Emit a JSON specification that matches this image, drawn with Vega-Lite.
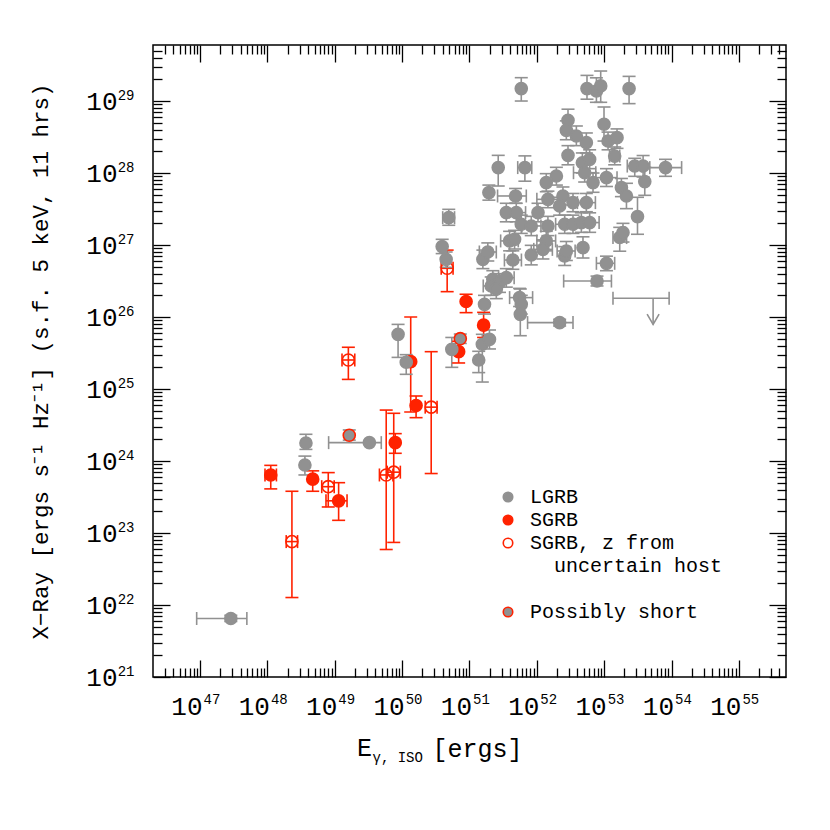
{
"$schema": "https://vega.github.io/schema/vega-lite/v6.json",
"width": 633, "height": 632,
"autosize": {"type": "none"},
"padding": {"left": 153, "top": 45, "right": 44, "bottom": 153},
"background": "white",
"data": {"values": [
{"E":1.12e48,"L":6.4e23,"Elo":9.2e47,"Ehi":1.36e48,"Llo":4.1e23,"Lhi":8.7e23,"t":"SGRB"},
{"E":4.7e48,"L":5.6e23,"Llo":3.8e23,"Lhi":7.3e23,"t":"SGRB"},
{"E":1.14e49,"L":2.8e23,"Elo":7.4e48,"Ehi":1.52e49,"Llo":1.5e23,"Lhi":5.0e23,"t":"SGRB"},
{"E":7.9e49,"L":1.8e24,"Llo":1.28e24,"Lhi":2.4e24,"t":"SGRB"},
{"E":1.34e50,"L":2.4e25,"Llo":4.8e24,"Lhi":1.0e26,"t":"SGRB"},
{"E":1.61e50,"L":5.9e24,"Llo":4.0e24,"Lhi":8.0e24,"t":"SGRB"},
{"E":6.9e50,"L":3.3e25,"Llo":2.3e25,"Lhi":4.6e25,"t":"SGRB"},
{"E":8.9e50,"L":1.64e26,"Llo":1.15e26,"Lhi":2.07e26,"t":"SGRB"},
{"E":1.62e51,"L":7.7e25,"Llo":5.2e25,"Lhi":1.16e26,"t":"SGRB"},
{"E":1.59e49,"L":2.53e25,"Elo":1.28e49,"Ehi":1.98e49,"Llo":1.36e25,"Lhi":3.8e25,"t":"SGRB, z from uncertain host"},
{"E":8.0e48,"L":4.4e23,"Elo":6.4e48,"Ehi":9.8e48,"Llo":2.3e23,"Lhi":6.9e23,"t":"SGRB, z from uncertain host"},
{"E":2.31e48,"L":7.6e22,"Elo":1.9e48,"Ehi":2.8e48,"Llo":1.27e22,"Lhi":3.8e23,"t":"SGRB, z from uncertain host"},
{"E":5.8e49,"L":6.4e23,"Elo":4.6e49,"Ehi":7.3e49,"Llo":5.9e22,"Lhi":5.1e24,"t":"SGRB, z from uncertain host"},
{"E":7.5e49,"L":7.0e23,"Elo":6.0e49,"Ehi":9.4e49,"Llo":7.4e22,"Lhi":4.6e24,"t":"SGRB, z from uncertain host"},
{"E":2.7e50,"L":5.6e24,"Elo":2.2e50,"Ehi":3.3e50,"Llo":6.7e23,"Lhi":3.3e25,"t":"SGRB, z from uncertain host"},
{"E":4.66e50,"L":4.75e26,"Elo":3.8e50,"Ehi":5.7e50,"Llo":2.25e26,"Lhi":8.5e26,"t":"SGRB, z from uncertain host"},
{"E":1.64e49,"L":2.28e24,"Llo":1.95e24,"Lhi":2.7e24,"t":"Possibly short"},
{"E":7.3e50,"L":5.0e25,"Llo":4.3e25,"Lhi":5.8e25,"t":"Possibly short"},
{"E":2.86e47,"L":6.5e21,"Elo":8.9e46,"Ehi":4.95e47,"Llo":5.9e21,"Lhi":7.2e21,"t":"LGRB"},
{"E":3.73e48,"L":1.78e24,"Llo":1.45e24,"Lhi":2.35e24,"t":"LGRB"},
{"E":3.6e48,"L":8.8e23,"Llo":6.4e23,"Lhi":1.17e24,"t":"LGRB"},
{"E":3.26e49,"L":1.8e24,"Elo":8.1e48,"Ehi":4.9e49,"t":"LGRB"},
{"E":8.7e49,"L":5.75e25,"Llo":2.75e25,"Lhi":7.9e25,"t":"LGRB"},
{"E":1.15e50,"L":2.35e25,"Llo":1.6e25,"Lhi":3.0e25,"t":"LGRB"},
{"E":5.46e50,"L":3.56e25,"Llo":2.0e25,"Lhi":5.2e25,"t":"LGRB"},
{"E":1.37e51,"L":2.53e25,"Llo":1.69e25,"Lhi":3.34e25,"t":"LGRB"},
{"E":1.55e51,"L":4.18e25,"Llo":1.25e25,"Lhi":5.75e25,"t":"LGRB"},
{"E":1.98e51,"L":4.9e25,"Llo":3.6e25,"Lhi":6.6e25,"t":"LGRB"},
{"E":5.87e51,"L":1.49e29,"Llo":1.0e29,"Lhi":2.11e29,"t":"LGRB"},
{"E":5.55e52,"L":1.49e29,"Llo":1.06e29,"Lhi":2.27e29,"t":"LGRB"},
{"E":7.66e52,"L":1.38e29,"Llo":9.6e28,"Lhi":2.1e29,"t":"LGRB"},
{"E":8.87e52,"L":1.62e29,"Llo":9.6e28,"Lhi":2.61e29,"t":"LGRB"},
{"E":2.34e53,"L":1.49e29,"Llo":9.2e28,"Lhi":2.2e29,"t":"LGRB"},
{"E":2.9e52,"L":5.4e28,"Llo":3.9e28,"Lhi":7.7e28,"t":"LGRB"},
{"E":2.74e52,"L":3.92e28,"Llo":2.9e28,"Lhi":5.3e28,"t":"LGRB"},
{"E":3.86e52,"L":3.27e28,"Llo":2.4e28,"Lhi":4.5e28,"t":"LGRB"},
{"E":5.43e52,"L":2.64e28,"Llo":1.9e28,"Lhi":3.6e28,"t":"LGRB"},
{"E":9.93e52,"L":4.75e28,"Llo":2.78e28,"Lhi":8.26e28,"t":"LGRB"},
{"E":1.14e53,"L":2.78e28,"Llo":2.1e28,"Lhi":3.7e28,"t":"LGRB"},
{"E":1.55e53,"L":3.1e28,"Llo":2.2e28,"Lhi":4.1e28,"t":"LGRB"},
{"E":1.43e53,"L":1.72e28,"Elo":1.2e53,"Ehi":1.7e53,"Llo":1.3e28,"Lhi":2.3e28,"t":"LGRB"},
{"E":2.9e52,"L":1.76e28,"Llo":1.3e28,"Lhi":2.4e28,"t":"LGRB"},
{"E":4.74e52,"L":1.39e28,"Llo":1.0e28,"Lhi":1.9e28,"t":"LGRB"},
{"E":6.08e52,"L":1.55e28,"Llo":1.15e28,"Lhi":2.1e28,"t":"LGRB"},
{"E":2.67e51,"L":1.19e28,"Llo":6.6e27,"Lhi":1.76e28,"t":"LGRB"},
{"E":6.64e51,"L":1.19e28,"Elo":5.2e51,"Ehi":8.4e51,"Llo":7.7e27,"Lhi":1.73e28,"t":"LGRB"},
{"E":2.84e53,"L":1.25e28,"Elo":2.2e53,"Ehi":3.6e53,"Llo":9.0e27,"Lhi":1.6e28,"t":"LGRB"},
{"E":3.78e53,"L":1.25e28,"Llo":8.8e27,"Lhi":1.75e28,"t":"LGRB"},
{"E":8.13e53,"L":1.19e28,"Elo":4.75e53,"Ehi":1.41e54,"Llo":9.0e27,"Lhi":1.55e28,"t":"LGRB"},
{"E":4.0e53,"L":7.6e27,"Llo":4.9e27,"Lhi":1.2e28,"t":"LGRB"},
{"E":1.94e51,"L":5.35e27,"Llo":4.2e27,"Lhi":6.8e27,"t":"LGRB"},
{"E":4.83e51,"L":4.8e27,"Elo":2.61e51,"Ehi":6.97e51,"Llo":3.8e27,"Lhi":6.1e27,"t":"LGRB"},
{"E":1.38e52,"L":7.36e27,"Llo":5.5e27,"Lhi":9.8e27,"t":"LGRB"},
{"E":1.95e52,"L":9.1e27,"Llo":6.8e27,"Lhi":1.2e28,"t":"LGRB"},
{"E":5.13e52,"L":1.01e28,"Elo":3.5e52,"Ehi":7.5e52,"Llo":7.5e27,"Lhi":1.35e28,"t":"LGRB"},
{"E":6.82e52,"L":7.36e27,"Llo":5.4e27,"Lhi":1.0e28,"t":"LGRB"},
{"E":1.08e53,"L":8.63e27,"Elo":7.5e52,"Ehi":1.55e53,"Llo":6.5e27,"Lhi":1.15e28,"t":"LGRB"},
{"E":1.8e53,"L":6.27e27,"Llo":4.7e27,"Lhi":8.4e27,"t":"LGRB"},
{"E":2.14e53,"L":4.8e27,"Llo":3.2e27,"Lhi":7.2e27,"t":"LGRB"},
{"E":1.46e52,"L":4.31e27,"Elo":1.0e52,"Ehi":2.1e52,"Llo":3.3e27,"Lhi":5.6e27,"t":"LGRB"},
{"E":2.44e52,"L":4.8e27,"Llo":3.6e27,"Lhi":6.4e27,"t":"LGRB"},
{"E":3.44e52,"L":3.88e27,"Llo":2.9e27,"Lhi":5.2e27,"t":"LGRB"},
{"E":5.43e52,"L":3.88e27,"Elo":4.0e52,"Ehi":7.4e52,"Llo":2.9e27,"Lhi":5.2e27,"t":"LGRB"},
{"E":2.18e52,"L":3.48e27,"Llo":2.6e27,"Lhi":4.6e27,"t":"LGRB"},
{"E":3.52e51,"L":2.82e27,"Llo":2.1e27,"Lhi":3.8e27,"t":"LGRB"},
{"E":4.95e51,"L":2.82e27,"Elo":3.6e51,"Ehi":6.8e51,"Llo":2.1e27,"Lhi":3.8e27,"t":"LGRB"},
{"E":1.04e52,"L":2.82e27,"Llo":2.1e27,"Lhi":3.8e27,"t":"LGRB"},
{"E":5.87e51,"L":1.94e27,"Llo":1.45e27,"Lhi":2.6e27,"t":"LGRB"},
{"E":8.26e51,"L":1.84e27,"Elo":6.0e51,"Ehi":1.15e52,"Llo":1.35e27,"Lhi":2.5e27,"t":"LGRB"},
{"E":1.46e52,"L":1.84e27,"Llo":1.35e27,"Lhi":2.5e27,"t":"LGRB"},
{"E":2.59e52,"L":1.94e27,"Elo":1.9e52,"Ehi":3.6e52,"Llo":1.45e27,"Lhi":2.6e27,"t":"LGRB"},
{"E":3.44e52,"L":1.94e27,"Llo":1.45e27,"Lhi":2.6e27,"t":"LGRB"},
{"E":4.58e52,"L":2.05e27,"Llo":1.5e27,"Lhi":2.8e27,"t":"LGRB"},
{"E":6.08e52,"L":2.05e27,"Elo":4.4e52,"Ehi":8.4e52,"Llo":1.5e27,"Lhi":2.8e27,"t":"LGRB"},
{"E":3.12e53,"L":2.48e27,"Llo":1.41e27,"Lhi":4.6e27,"t":"LGRB"},
{"E":1.7e53,"L":1.27e27,"Elo":1.35e53,"Ehi":2.15e53,"Llo":8.2e26,"Lhi":1.76e27,"t":"LGRB"},
{"E":1.9e53,"L":1.49e27,"Llo":1.1e27,"Lhi":2.0e27,"t":"LGRB"},
{"E":4.92e50,"L":2.4e27,"Elo":4.0e50,"Ehi":6.0e50,"Llo":1.88e27,"Lhi":3.13e27,"t":"LGRB"},
{"E":3.93e50,"L":9.5e26,"Llo":7.6e26,"Lhi":1.2e27,"t":"LGRB"},
{"E":4.5e50,"L":6.33e26,"Llo":4.9e26,"Lhi":8.0e26,"t":"LGRB"},
{"E":3.94e51,"L":1.14e27,"Elo":2.9e51,"Ehi":5.3e51,"Llo":8.3e26,"Lhi":1.55e27,"t":"LGRB"},
{"E":4.67e51,"L":1.2e27,"Llo":8.8e26,"Lhi":1.6e27,"t":"LGRB"},
{"E":1.38e52,"L":1.14e27,"Elo":1.0e52,"Ehi":1.9e52,"Llo":8.3e26,"Lhi":1.55e27,"t":"LGRB"},
{"E":4.84e52,"L":9.2e26,"Llo":6.6e26,"Lhi":1.3e27,"t":"LGRB"},
{"E":1.58e51,"L":6.33e26,"Llo":4.7e26,"Lhi":8.5e26,"t":"LGRB"},
{"E":1.87e51,"L":8.0e26,"Elo":1.4e51,"Ehi":2.5e51,"Llo":6.0e26,"Lhi":1.07e27,"t":"LGRB"},
{"E":4.4e51,"L":6.19e26,"Elo":3.3e51,"Ehi":5.9e51,"Llo":4.6e26,"Lhi":8.3e26,"t":"LGRB"},
{"E":8.26e51,"L":7.26e26,"Llo":5.3e26,"Lhi":9.9e26,"t":"LGRB"},
{"E":1.23e52,"L":8.7e26,"Elo":9.0e51,"Ehi":1.7e52,"Llo":6.4e26,"Lhi":1.18e27,"t":"LGRB"},
{"E":2.59e52,"L":7.03e26,"Llo":5.2e26,"Lhi":9.5e26,"t":"LGRB"},
{"E":2.74e52,"L":8.26e26,"Elo":2.0e52,"Ehi":3.7e52,"Llo":6.1e26,"Lhi":1.12e27,"t":"LGRB"},
{"E":1.08e53,"L":5.57e26,"Elo":7.66e52,"Ehi":1.43e53,"Llo":4.4e26,"Lhi":7.0e26,"t":"LGRB"},
{"E":7.82e52,"L":3.16e26,"Elo":2.5e52,"Ehi":1.28e53,"Llo":2.7e26,"Lhi":3.7e26,"t":"LGRB"},
{"E":5.32e53,"L":1.82e26,"Elo":1.35e53,"Ehi":9.2e53,"Llo":7.9e25,"t":"LGRB","ul":true},
{"E":2.22e51,"L":3.34e26,"Llo":2.5e26,"Lhi":4.4e26,"t":"LGRB"},
{"E":2.1e51,"L":2.7e26,"Elo":1.6e51,"Ehi":2.8e51,"Llo":2.0e26,"Lhi":3.6e26,"t":"LGRB"},
{"E":2.79e51,"L":3.0e26,"Llo":2.2e26,"Lhi":4.0e26,"t":"LGRB"},
{"E":3.52e51,"L":3.52e26,"Elo":2.7e51,"Ehi":4.6e51,"Llo":2.6e26,"Lhi":4.7e26,"t":"LGRB"},
{"E":2.5e51,"L":2.43e26,"Llo":1.8e26,"Lhi":3.2e26,"t":"LGRB"},
{"E":1.67e51,"L":1.5e26,"Llo":1.1e26,"Lhi":2.0e26,"t":"LGRB"},
{"E":5.54e51,"L":1.86e26,"Elo":3.94e51,"Ehi":8.65e51,"Llo":1.4e26,"Lhi":2.5e26,"t":"LGRB"},
{"E":5.87e51,"L":1.5e26,"Llo":1.1e26,"Lhi":2.0e26,"t":"LGRB"},
{"E":5.68e51,"L":1.09e26,"Llo":5.5e25,"Lhi":2.45e26,"t":"LGRB"},
{"E":2.18e52,"L":8.36e25,"Elo":7.28e51,"Ehi":3.44e52,"Llo":7.5e25,"Lhi":9.3e25,"t":"LGRB"}
]},
"resolve": {"axis": {"x": "independent", "y": "independent"}},
"config": {
  "view": {"stroke": "black", "strokeWidth": 1.5},
  "axis": {"grid": false, "domain": false, "tickColor": "black", "tickWidth": 1.3, "labelColor": "black", "labelFont": "Liberation Mono", "titleFont": "Liberation Mono", "titleFontWeight": "normal", "titleColor": "black", "labelFlush": false, "labelOverlap": false, "labelBound": false},
  "legend": {"direction": "vertical"}
},
"layer": [
{
 "transform": [{"filter": "isValid(datum.Elo)"}],
 "mark": {"type": "rule", "strokeWidth": 1.6},
 "encoding": {
  "x": {"field": "Elo", "type": "quantitative", "scale": {"type": "log", "domain": [2e46, 5e55], "nice": false},
   "axis": {"orient": "bottom", "values": [1e47,1e48,1e49,1e50,1e51,1e52,1e53,1e54,1e55], "tickSize": 17, "offset": -17, "labelExpr": "'10'", "labelFontSize": 26, "labelAlign": "right", "labelBaseline": "top", "labelPadding": 16, "labelOffset": 2, "title": "E", "titleFontSize": 25, "titleX": 211, "titleY": 95, "titleAlign": "center", "titleBaseline": "alphabetic", "titleAngle": 0}},
  "x2": {"field": "Ehi"},
  "y": {"field": "L", "type": "quantitative", "scale": {"type": "log", "domain": [1e21, 6e29], "nice": false},
   "axis": {"orient": "left", "values": [1e21,1e22,1e23,1e24,1e25,1e26,1e27,1e28,1e29], "tickSize": 17, "offset": -17, "labelExpr": "'10'", "labelFontSize": 26, "labelAlign": "right", "labelBaseline": "middle", "labelPadding": 36, "title": "X−Ray [ergs s⁻¹ Hz⁻¹] (s.f. 5 keV, 11 hrs)", "titleFontSize": 22.5, "titleX": -130, "titleY": 316, "titleAlign": "center", "titleBaseline": "middle", "titleAngle": 270}},
  "color": {"field": "t", "type": "nominal", "scale": {"domain": ["LGRB", "SGRB", "SGRB, z from uncertain host", "Possibly short"], "range": ["#919191", "#ff2200", "#ff2200", "#919191"]}, "legend": null}
 }
},
{
 "transform": [{"filter": "isValid(datum.Elo)"}, {"fold": ["Elo", "Ehi"], "as": ["k", "v"]}],
 "mark": {"type": "tick", "orient": "vertical", "size": 13, "thickness": 1.6, "opacity": 1},
 "encoding": {
  "x": {"field": "v", "type": "quantitative", "scale": {"type": "log", "domain": [2e46, 5e55], "nice": false},
   "axis": {"orient": "bottom", "values": [1e47,1e48,1e49,1e50,1e51,1e52,1e53,1e54,1e55], "ticks": false, "tickSize": 0, "labelExpr": "format(log(datum.value)/LN10, '.0f')", "labelFontSize": 14, "labelAlign": "left", "labelBaseline": "top", "labelPadding": 15, "labelOffset": 3, "title": "γ, ISO", "titleFontSize": 14, "titleX": 219, "titleY": 84, "titleAlign": "left", "titleBaseline": "alphabetic", "titleAngle": 0}},
  "y": {"field": "L", "type": "quantitative", "scale": {"type": "log", "domain": [1e21, 6e29], "nice": false},
   "axis": {"orient": "left", "values": [1e21,1e22,1e23,1e24,1e25,1e26,1e27,1e28,1e29], "ticks": false, "tickSize": 0, "labelExpr": "format(log(datum.value)/LN10, '.0f')", "labelFontSize": 14, "labelAlign": "right", "labelBaseline": "middle", "labelPadding": 19, "labelOffset": -6, "title": null}},
  "color": {"field": "t", "type": "nominal", "legend": null}
 }
},
{
 "transform": [{"filter": "isValid(datum.Llo) && !datum.ul"}],
 "mark": {"type": "rule", "strokeWidth": 1.6},
 "encoding": {
  "x": {"field": "E", "type": "quantitative", "scale": {"type": "log", "domain": [2e46, 5e55], "nice": false},
   "axis": {"orient": "bottom", "values": [3e46,4e46,5e46,6e46,7e46,8e46,9e46,2e47,3e47,4e47,5e47,6e47,7e47,8e47,9e47,2e48,3e48,4e48,5e48,6e48,7e48,8e48,9e48,2e49,3e49,4e49,5e49,6e49,7e49,8e49,9e49,2e50,3e50,4e50,5e50,6e50,7e50,8e50,9e50,2e51,3e51,4e51,5e51,6e51,7e51,8e51,9e51,2e52,3e52,4e52,5e52,6e52,7e52,8e52,9e52,2e53,3e53,4e53,5e53,6e53,7e53,8e53,9e53,2e54,3e54,4e54,5e54,6e54,7e54,8e54,9e54,2e55,3e55,4e55], "tickSize": 9, "offset": -9, "labels": false, "title": "[ergs]", "titleFontSize": 25, "titleX": 279, "titleY": 88, "titleAlign": "left", "titleBaseline": "alphabetic", "titleAngle": 0}},
  "y": {"field": "Llo", "type": "quantitative", "scale": {"type": "log", "domain": [1e21, 6e29], "nice": false},
   "axis": {"orient": "left", "values": [2e21,3e21,4e21,5e21,6e21,7e21,8e21,9e21,2e22,3e22,4e22,5e22,6e22,7e22,8e22,9e22,2e23,3e23,4e23,5e23,6e23,7e23,8e23,9e23,2e24,3e24,4e24,5e24,6e24,7e24,8e24,9e24,2e25,3e25,4e25,5e25,6e25,7e25,8e25,9e25,2e26,3e26,4e26,5e26,6e26,7e26,8e26,9e26,2e27,3e27,4e27,5e27,6e27,7e27,8e27,9e27,2e28,3e28,4e28,5e28,6e28,7e28,8e28,9e28,2e29,3e29,4e29,5e29], "tickSize": 9, "offset": -9, "labels": false, "title": null}},
  "y2": {"field": "Lhi"},
  "color": {"field": "t", "type": "nominal", "legend": null}
 }
},
{
 "transform": [{"filter": "isValid(datum.Llo) && !datum.ul"}, {"fold": ["Llo", "Lhi"], "as": ["k", "v"]}],
 "mark": {"type": "tick", "orient": "horizontal", "size": 13, "thickness": 1.6, "opacity": 1},
 "encoding": {
  "x": {"field": "E", "type": "quantitative", "scale": {"type": "log", "domain": [2e46, 5e55], "nice": false},
   "axis": {"orient": "top", "values": [1e47,1e48,1e49,1e50,1e51,1e52,1e53,1e54,1e55], "tickSize": 17, "offset": -17, "labels": false, "title": null}},
  "y": {"field": "v", "type": "quantitative", "scale": {"type": "log", "domain": [1e21, 6e29], "nice": false},
   "axis": {"orient": "right", "values": [1e21,1e22,1e23,1e24,1e25,1e26,1e27,1e28,1e29], "tickSize": 17, "offset": -17, "labels": false, "title": null}},
  "color": {"field": "t", "type": "nominal", "legend": null}
 }
},
{
 "transform": [{"filter": "datum.ul"}],
 "mark": {"type": "rule", "strokeWidth": 1.6},
 "encoding": {
  "x": {"field": "E", "type": "quantitative", "scale": {"type": "log", "domain": [2e46, 5e55], "nice": false},
   "axis": {"orient": "top", "values": [3e46,4e46,5e46,6e46,7e46,8e46,9e46,2e47,3e47,4e47,5e47,6e47,7e47,8e47,9e47,2e48,3e48,4e48,5e48,6e48,7e48,8e48,9e48,2e49,3e49,4e49,5e49,6e49,7e49,8e49,9e49,2e50,3e50,4e50,5e50,6e50,7e50,8e50,9e50,2e51,3e51,4e51,5e51,6e51,7e51,8e51,9e51,2e52,3e52,4e52,5e52,6e52,7e52,8e52,9e52,2e53,3e53,4e53,5e53,6e53,7e53,8e53,9e53,2e54,3e54,4e54,5e54,6e54,7e54,8e54,9e54,2e55,3e55,4e55], "tickSize": 9, "offset": -9, "labels": false, "title": null}},
  "y": {"field": "L", "type": "quantitative", "scale": {"type": "log", "domain": [1e21, 6e29], "nice": false},
   "axis": {"orient": "right", "values": [2e21,3e21,4e21,5e21,6e21,7e21,8e21,9e21,2e22,3e22,4e22,5e22,6e22,7e22,8e22,9e22,2e23,3e23,4e23,5e23,6e23,7e23,8e23,9e23,2e24,3e24,4e24,5e24,6e24,7e24,8e24,9e24,2e25,3e25,4e25,5e25,6e25,7e25,8e25,9e25,2e26,3e26,4e26,5e26,6e26,7e26,8e26,9e26,2e27,3e27,4e27,5e27,6e27,7e27,8e27,9e27,2e28,3e28,4e28,5e28,6e28,7e28,8e28,9e28,2e29,3e29,4e29,5e29], "tickSize": 9, "offset": -9, "labels": false, "title": null}},
  "y2": {"field": "Llo"},
  "color": {"field": "t", "type": "nominal", "legend": null}
 }
},
{
 "transform": [{"filter": "datum.ul"}],
 "mark": {"type": "point", "shape": "M-1,-1.7L0,0L1,-1.7", "size": 144, "filled": false, "strokeWidth": 1.6, "opacity": 1},
 "encoding": {
  "x": {"field": "E", "type": "quantitative", "scale": {"type": "log", "domain": [2e46, 5e55], "nice": false}, "axis": null},
  "y": {"field": "Llo", "type": "quantitative", "scale": {"type": "log", "domain": [1e21, 6e29], "nice": false}, "axis": null},
  "color": {"field": "t", "type": "nominal", "legend": null}
 }
},
{
 "transform": [{"filter": "!datum.ul"}],
 "mark": {"type": "point", "shape": "circle", "size": 145, "filled": true, "strokeWidth": 1.6, "opacity": 1},
 "encoding": {
  "x": {"field": "E", "type": "quantitative", "scale": {"type": "log", "domain": [2e46, 5e55], "nice": false}, "axis": null},
  "y": {"field": "L", "type": "quantitative", "scale": {"type": "log", "domain": [1e21, 6e29], "nice": false}, "axis": null},
  "fill": {"field": "t", "type": "nominal", "scale": {"domain": ["LGRB", "SGRB", "SGRB, z from uncertain host", "uncertain host", " ", "Possibly short"], "range": ["#919191", "#ff2200", "transparent", "transparent", "transparent", "#919191"]},
   "legend": {"title": null, "orient": "none", "legendX": 345, "legendY": 442, "direction": "vertical", "padding": 0, "labelFont": "Liberation Mono", "labelFontSize": 20, "labelColor": "black", "labelOffset": 12, "labelLimit": 400, "symbolSize": 90, "symbolStrokeWidth": 1.6, "symbolType": "circle", "rowPadding": 3, "labelExpr": "datum.label == 'SGRB, z from uncertain host' ? 'SGRB, z from' : datum.label == 'uncertain host' ? '\u200b\u00a0\u00a0uncertain host' : datum.label"}},
  "stroke": {"field": "t", "type": "nominal", "scale": {"domain": ["LGRB", "SGRB", "SGRB, z from uncertain host", "uncertain host", " ", "Possibly short"], "range": ["#919191", "#ff2200", "#ff2200", "transparent", "transparent", "#ff2200"]},
   "legend": {"title": null, "orient": "none", "legendX": 345, "legendY": 442, "direction": "vertical", "padding": 0, "labelFont": "Liberation Mono", "labelFontSize": 20, "labelColor": "black", "labelOffset": 12, "labelLimit": 400, "symbolSize": 90, "symbolStrokeWidth": 1.6, "symbolType": "circle", "rowPadding": 3, "labelExpr": "datum.label == 'SGRB, z from uncertain host' ? 'SGRB, z from' : datum.label == 'uncertain host' ? '\u200b\u00a0\u00a0uncertain host' : datum.label"}}
 }
}
]
}
